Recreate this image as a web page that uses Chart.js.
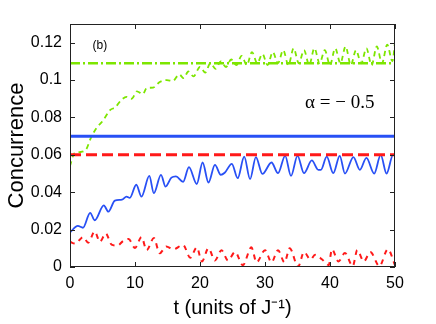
<!DOCTYPE html>
<html>
<head>
<meta charset="utf-8">
<script src="https://cdn.jsdelivr.net/npm/chart.js@4.4.1/dist/chart.umd.min.js"></script>
<style>
  html, body { margin: 0; padding: 0; background: #fff; }
</style>
</head>
<body>
<canvas id="grafico" width="436" height="324"></canvas>
<script>
// ejes
const xTicks = [0, 10, 20, 30, 40, 50];
const yTicks = [0, 0.02, 0.04, 0.06, 0.08, 0.1, 0.12];

// valores estacionarios (lineas horizontales)
const tSteady = [0, 50];
const steadyGreen = 0.109;
const steadyBlue = 0.07;
const steadyRed = 0.06;

// curva azul (solida)
const tBlue = [0, 1.2, 2.0, 3.1, 3.8, 5.2, 5.9, 6.9, 8.0, 8.7, 9.2, 10.2, 11.0, 12.2, 12.9, 14.0, 14.7, 15.6, 16.3, 17.4,
  18.3, 19.5, 20.4, 21.3, 22.3, 23.2, 23.8, 24.9, 25.8, 26.8, 27.7, 28.6, 29.6, 31.0, 32.0, 33.1, 34.0, 35.0, 36.0, 37.2,
  38.2, 38.6, 39.5, 40.5, 41.5, 42.3, 43.6, 44.6, 45.6, 46.8, 47.8, 48.7, 49.7, 50];
const cBlue = [0.0185, 0.022, 0.021, 0.029, 0.025, 0.033, 0.0296, 0.0355, 0.036, 0.0377, 0.037, 0.044, 0.0377, 0.0487, 0.0395, 0.0493, 0.043, 0.0478, 0.0485, 0.0455,
  0.0534, 0.0444, 0.0559, 0.0452, 0.0546, 0.0493, 0.0504, 0.0552, 0.0475, 0.059, 0.047, 0.0588, 0.0498, 0.0559, 0.0502, 0.0595, 0.0487, 0.0595, 0.0502, 0.057,
  0.052, 0.052, 0.059, 0.0502, 0.0595, 0.050, 0.0588, 0.052, 0.0584, 0.050, 0.060, 0.050, 0.060, 0.0598];

// curva roja (punteada)
const tRed = [0, 0.8, 2.0, 2.8, 3.8, 4.6, 5.5, 6.4, 7.3, 8.2, 9.0, 10.0, 11.0, 11.8, 12.9, 13.8, 14.8, 15.9, 17.4, 18.5,
  19.5, 20.3, 21.3, 22.3, 23.3, 24.3, 25.4, 26.6, 27.9, 28.7, 30.0, 31.0, 32.0, 33.0, 33.8, 35.1, 36.0, 37.0, 37.7, 38.8,
  39.8, 40.3, 41.3, 42.3, 43.5, 44.2, 45.2, 46.2, 47.6, 48.9, 50];
const cRed = [0.0135, 0.0125, 0.016, 0.013, 0.019, 0.0135, 0.018, 0.012, 0.0115, 0.014, 0.015, 0.0102, 0.016, 0.009, 0.0155, 0.0073, 0.011, 0.0095, 0.0118, 0.005,
  0.0105, 0.003, 0.010, 0.0035, 0.009, 0.0035, 0.008, 0.001, 0.0105, 0.0025, 0.009, 0.0025, 0.009, 0.0025, 0.010, 0.0002, 0.008, 0.004, 0.0065, 0.004,
  0.001, 0.0095, 0.003, 0.0075, 0.0005, 0.009, 0.003, 0.008, 0.0005, 0.0095, 0.001];

// curva verde (punteada)
const tGreen = [0, 0.7, 1.5, 2.5, 3.2, 4.1, 5.0, 6.2, 7.0, 7.8, 8.7, 9.5, 10.3, 11.2, 11.8, 12.8, 13.8, 14.9, 15.8, 16.8,
  17.5, 18.2, 19.0, 20.0, 20.8, 21.6, 22.4, 23.2, 24.0, 24.8, 25.6, 26.4, 27.2, 28.0, 28.8, 29.6, 30.4, 31.2, 32.0, 32.8,
  33.6, 34.4, 35.2, 36.0, 36.8, 37.6, 38.4, 39.2, 40.0, 40.8, 41.6, 42.4, 43.2, 44.0, 44.8, 45.6, 46.4, 47.2, 48.0, 48.8,
  49.6, 50];
const cGreen = [0.054, 0.061, 0.0615, 0.063, 0.069, 0.0745, 0.078, 0.084, 0.0855, 0.089, 0.091, 0.090, 0.094, 0.0925, 0.0957, 0.096, 0.099, 0.100, 0.0995, 0.103,
  0.101, 0.1046, 0.102, 0.107, 0.104, 0.109, 0.106, 0.110, 0.107, 0.111, 0.108, 0.113, 0.108, 0.115, 0.109, 0.114, 0.108, 0.115, 0.109, 0.116,
  0.108, 0.117, 0.109, 0.116, 0.108, 0.117, 0.109, 0.116, 0.108, 0.117, 0.109, 0.118, 0.108, 0.116, 0.109, 0.117, 0.108, 0.118, 0.109, 0.119,
  0.110, 0.120];

const azul = "rgb(40, 80, 245)";
const rojo = "rgb(255, 25, 25)";
const verde = "rgb(125, 230, 0)";
const fuente = "'Liberation Sans', Arial, Helvetica, sans-serif";

function puntos(ts, vs) {
  return ts.map((t, i) => ({ x: t, y: vs[i] }));
}
function constante(v) {
  return tSteady.map(t => ({ x: t, y: v }));
}

// caja, marcas hacia adentro y textos
const cajaMatlab = {
  id: "cajaMatlab",
  afterDraw(chart) {
    const { ctx, chartArea: a, scales } = chart;
    ctx.save();
    ctx.strokeStyle = "#222";
    ctx.lineWidth = 1;
    ctx.strokeRect(a.left + 0.5, a.top + 0.5, a.right - a.left - 1, a.bottom - a.top - 1);
    ctx.beginPath();
    for (const v of xTicks) {
      const px = Math.round(scales.x.getPixelForValue(v)) + 0.5;
      ctx.moveTo(px, a.bottom); ctx.lineTo(px, a.bottom - 5);
      ctx.moveTo(px, a.top); ctx.lineTo(px, a.top + 5);
    }
    for (const v of yTicks) {
      const py = Math.round(scales.y.getPixelForValue(v)) + 0.5;
      ctx.moveTo(a.left, py); ctx.lineTo(a.left + 5, py);
      ctx.moveTo(a.right, py); ctx.lineTo(a.right - 5, py);
    }
    ctx.stroke();

    ctx.fillStyle = "#000";
    ctx.textAlign = "center";
    ctx.textBaseline = "middle";
    ctx.font = "12px " + fuente;
    ctx.fillText("(b)", scales.x.getPixelForValue(4.6), scales.y.getPixelForValue(0.1184));
    ctx.font = "19px 'Liberation Serif', 'Times New Roman', serif";
    ctx.fillText("α = − 0.5", scales.x.getPixelForValue(41.5), scales.y.getPixelForValue(0.0878));
    ctx.restore();
  }
};

const ctx = document.getElementById("grafico").getContext("2d");
new Chart(ctx, {
  type: "line",
  data: {
    datasets: [
      { data: constante(steadyGreen), borderColor: verde, borderWidth: 2.5, borderDash: [10, 3, 2, 3], pointRadius: 0 },
      { data: constante(steadyBlue), borderColor: azul, borderWidth: 3, pointRadius: 0 },
      { data: constante(steadyRed), borderColor: rojo, borderWidth: 3, borderDash: [11, 5], pointRadius: 0 },
      { data: puntos(tGreen, cGreen), borderColor: verde, borderWidth: 1.8, borderDash: [5, 4], pointRadius: 0, cubicInterpolationMode: "monotone" },
      { data: puntos(tBlue, cBlue), borderColor: azul, borderWidth: 1.8, pointRadius: 0, cubicInterpolationMode: "monotone" },
      { data: puntos(tRed, cRed), borderColor: rojo, borderWidth: 2, borderDash: [5, 5], pointRadius: 0, cubicInterpolationMode: "monotone" }
    ]
  },
  options: {
    responsive: false,
    animation: false,
    devicePixelRatio: 1,
    layout: { padding: { left: 0, top: 24, right: 41, bottom: 0 } },
    plugins: { legend: { display: false }, tooltip: { enabled: false } },
    scales: {
      x: {
        type: "linear",
        min: 0,
        max: 50,
        afterFit(s) { s.height = 57; },
        afterBuildTicks(s) { s.ticks = xTicks.map(v => ({ value: v })); },
        grid: { display: false, drawTicks: false },
        border: { display: false },
        ticks: { color: "#000", font: { family: fuente, size: 16 }, padding: 7, maxRotation: 0 },
        title: { display: true, text: "t (units of J⁻¹)", color: "#000", font: { family: fuente, size: 20 }, padding: { top: 0, bottom: 4 } }
      },
      y: {
        type: "linear",
        min: 0,
        max: 0.13,
        afterFit(s) { s.width = 70; },
        afterBuildTicks(s) { s.ticks = yTicks.map(v => ({ value: v })); },
        grid: { display: false, drawTicks: false },
        border: { display: false },
        ticks: { color: "#000", font: { family: fuente, size: 16 }, padding: 8, callback: v => String(+v.toFixed(2)) },
        title: { display: true, text: "Concurrence", color: "#000", font: { family: fuente, size: 22 }, padding: { top: 4, bottom: 0 } }
      }
    }
  },
  plugins: [cajaMatlab]
});
</script>
</body>
</html>
